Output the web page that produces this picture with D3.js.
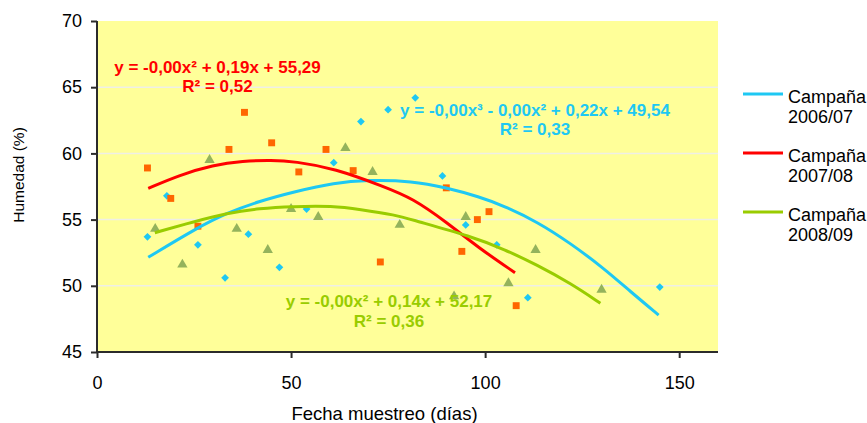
<!DOCTYPE html>
<html>
<head>
<meta charset="utf-8">
<script src="https://cdn.jsdelivr.net/npm/d3@7"></script>
<style>
  body { margin: 0; background: #fff; }
  text { font-family: "Liberation Sans", Arial, sans-serif; }
</style>
</head>
<body>
<div id="root"></div>
<script>
// puntos por campaña (día de muestreo, humedad %)
const dias0607 = [13, 18, 26, 33, 39, 47, 54, 61, 68, 75, 82, 89, 95, 103, 111, 145];
const hum0607 = [53.7, 56.8, 53.1, 50.6, 53.9, 51.4, 55.8, 59.3, 62.4, 63.3, 64.2, 58.3, 54.6, 53.1, 49.1, 49.9];
const dias0708 = [13, 19, 26, 34, 38, 45, 52, 59, 66, 73, 90, 94, 98, 101, 108];
const hum0708 = [58.9, 56.6, 54.5, 60.3, 63.1, 60.8, 58.6, 60.3, 58.7, 51.8, 57.4, 52.6, 55.0, 55.6, 48.5];
const dias0809 = [15, 22, 29, 36, 44, 50, 57, 64, 71, 78, 92, 95, 106, 113, 130];
const hum0809 = [54.3, 51.6, 59.5, 54.3, 52.7, 55.8, 55.2, 60.4, 58.6, 54.6, 49.2, 55.2, 50.2, 52.7, 49.7];

// líneas de tendencia
const tendX0607 = [13.2, 25.6, 33.3, 41.9, 50.9, 61.2, 69.7, 81.3, 89.9, 98.5, 104.9, 113.4, 122.0, 130.6, 137.5, 144.7];
const tendY0607 = [52.15, 54.34, 55.48, 56.40, 57.11, 57.79, 57.99, 57.92, 57.41, 56.73, 56.03, 54.84, 53.21, 51.32, 49.55, 47.79];
const tendX0708 = [13.2, 21.3, 29.9, 37.6, 45.0, 50.9, 61.2, 74.0, 81.3, 89.9, 98.5, 107.7];
const tendY0708 = [57.36, 58.37, 59.12, 59.43, 59.50, 59.39, 58.87, 57.48, 56.61, 54.84, 52.83, 50.99];
const tendX0809 = [14.9, 25.6, 33.3, 41.9, 50.5, 60.7, 67.6, 77.0, 81.3, 96.7, 104.9, 113.4, 122.0, 129.7];
const tendY0809 = [54.01, 54.89, 55.48, 55.85, 55.99, 56.03, 55.78, 55.35, 54.97, 53.71, 52.76, 51.57, 50.19, 48.68];

const xTicks = [0, 50, 100, 150];
const yTicks = [45, 50, 55, 60, 65, 70];
const campanas = ["2006/07", "2007/08", "2008/09"];
const ecuaciones = [
  ["y = -0,00x³ - 0,00x² + 0,22x + 49,54", "R² = 0,33"],
  ["y = -0,00x² + 0,19x + 55,29", "R² = 0,52"],
  ["y = -0,00x² + 0,14x + 52,17", "R² = 0,36"]
];

const width = 867, height = 423;
const mLeft = 97, mTop = 21, mRight = 718, mBottom = 352;

const colLinea = ["#1ec8f3", "#ff0000", "#99cc00"];
const colPunto = ["#1ec8f3", "#ff6600", "#94b35c"];
const simbolos = [d3.symbolSquare, d3.symbolSquare, d3.symbolTriangle];
const tamanos = [30, 48, 46];
const giros = [45, 0, 0];

const x = d3.scaleLinear().domain([0, 160]).range([mLeft, mRight]);
const y = d3.scaleLinear().domain([45, 70]).range([mBottom, mTop]);

const svg = d3.select("#root").append("svg")
  .attr("width", width)
  .attr("height", height);

// fondo del área de trazado
svg.append("rect")
  .attr("x", mLeft).attr("y", mTop)
  .attr("width", mRight - mLeft).attr("height", mBottom - mTop)
  .attr("fill", "#ffff99");

// líneas de cuadrícula
svg.selectAll(".grid")
  .data(yTicks.filter(d => d > 45 && d < 70))
  .enter().append("line")
  .attr("x1", mLeft).attr("x2", mRight)
  .attr("y1", d => y(d)).attr("y2", d => y(d))
  .attr("stroke", "#efefe6")
  .attr("stroke-width", 1.5);

// ejes
const ejeY = svg.append("g")
  .attr("transform", "translate(" + mLeft + ",0)")
  .call(d3.axisLeft(y).tickValues(yTicks).tickSize(6).tickPadding(9));
const ejeX = svg.append("g")
  .attr("transform", "translate(0," + mBottom + ")")
  .call(d3.axisBottom(x).tickValues(xTicks).tickSize(6).tickPadding(18));

[ejeY, ejeX].forEach(g => {
  g.select(".domain").attr("stroke", "#2b2b2b").attr("stroke-width", 2);
  g.selectAll(".tick line").attr("stroke", "#2b2b2b").attr("stroke-width", 2);
  g.selectAll(".tick text")
    .attr("fill", "#000")
    .style("font-size", "18px")
    .style("font-family", "Liberation Sans, Arial, sans-serif");
});
ejeY.select(".domain").attr("d", "M0," + mTop + "V" + mBottom);
ejeX.select(".domain").attr("d", "M" + mLeft + ",0H" + mRight);

// títulos de los ejes
svg.append("text")
  .attr("x", (mLeft + mRight) / 2 - 23)
  .attr("y", 420)
  .attr("text-anchor", "middle")
  .style("font-size", "18.5px")
  .text("Fecha muestreo (días)");

svg.append("text")
  .attr("transform", "translate(24,175) rotate(-90)")
  .attr("text-anchor", "middle")
  .style("font-size", "15.5px")
  .text("Humedad (%)");

const series = [
  { dias: dias0607, hum: hum0607, tx: tendX0607, ty: tendY0607 },
  { dias: dias0708, hum: hum0708, tx: tendX0708, ty: tendY0708 },
  { dias: dias0809, hum: hum0809, tx: tendX0809, ty: tendY0809 }
];

const linea = d3.line()
  .x(d => x(d[0]))
  .y(d => y(d[1]))
  .curve(d3.curveBasis);

// puntos
series.forEach((s, i) => {
  svg.append("g").selectAll("path")
    .data(d3.zip(s.dias, s.hum))
    .enter().append("path")
    .attr("transform", d => "translate(" + x(d[0]) + "," + y(d[1]) + ") rotate(" + giros[i] + ")")
    .attr("d", d3.symbol().type(simbolos[i]).size(tamanos[i]))
    .attr("fill", colPunto[i]);
});

// tendencias
series.forEach((s, i) => {
  svg.append("path")
    .datum(d3.zip(s.tx, s.ty))
    .attr("fill", "none")
    .attr("stroke", colLinea[i])
    .attr("stroke-width", 3)
    .attr("d", linea);
});

// ecuaciones
const posEc = [
  { cx: 535, y1: 116, y2: 134.5 },
  { cx: 217.5, y1: 72.5, y2: 92 },
  { cx: 389, y1: 307, y2: 327 }
];
ecuaciones.forEach((ec, i) => {
  const t = svg.append("g")
    .attr("fill", colLinea[i])
    .attr("text-anchor", "middle")
    .style("font-size", "17px")
    .style("font-weight", "bold");
  t.append("text").attr("x", posEc[i].cx).attr("y", posEc[i].y1).text(ec[0]);
  t.append("text").attr("x", posEc[i].cx).attr("y", posEc[i].y2).text(ec[1]);
});

// leyenda
const leyenda = svg.selectAll(".leg")
  .data(campanas)
  .enter().append("g")
  .attr("transform", (d, i) => "translate(743," + (94 + i * 59) + ")");
leyenda.append("line")
  .attr("x1", 0).attr("x2", 40)
  .attr("stroke", (d, i) => colLinea[i])
  .attr("stroke-width", 3);
leyenda.append("text")
  .attr("x", 45).attr("y", 8.5)
  .style("font-size", "18px")
  .text("Campaña");
leyenda.append("text")
  .attr("x", 45).attr("y", 28.5)
  .style("font-size", "18px")
  .text(d => d);
</script>
</body>
</html>
